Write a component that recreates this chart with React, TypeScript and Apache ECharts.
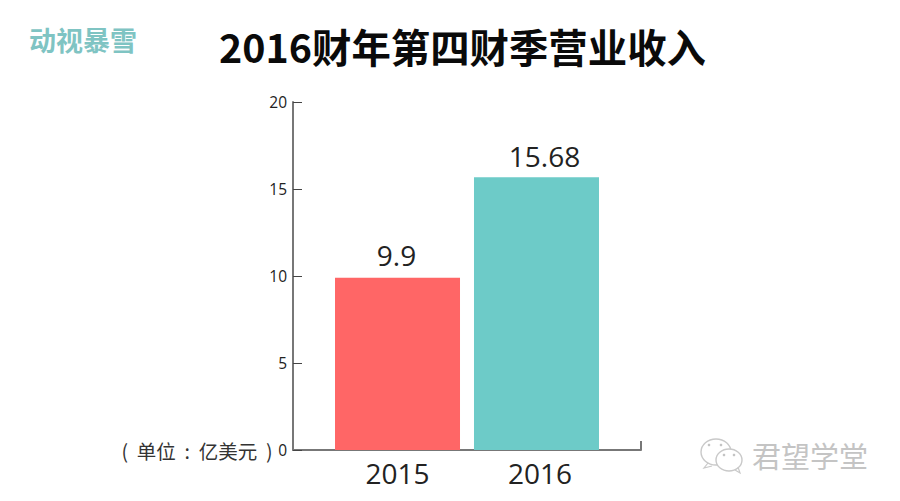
import React, { useEffect, useRef } from "react";
import * as echarts from "echarts";

const categories = ["2015", "2016"];
const values = [9.9, 15.68];
const barColors = ["#FF6666", "#6DCBC8"];
const labelOffsets = [[-1, -4], [8, -2]];
const titleText = "2016财年第四财季营业收入";
const brandText = "动视暴雪";
const unitText = "(  单位  :  亿美元  )";
const watermarkText = "君望学堂";

const X_MIN = 0.248;
const X_MAX = 2.752;

export default function App() {
  const ref = useRef<HTMLDivElement>(null);
  useEffect(() => {
    const chart = echarts.init(ref.current!, null, { renderer: "svg" });
    const bubble = { fill: "#fff", stroke: "#c9c9c9", lineWidth: 1.4 };
    const eye = { fill: "#c4c4c4" };
    chart.setOption({
      animation: false,
      backgroundColor: "#ffffff",
      grid: { left: 293, right: 259, top: 102, bottom: 51, containLabel: false },
      xAxis: {
        type: "value",
        min: X_MIN,
        max: X_MAX,
        splitLine: { show: false },
        axisLine: { show: true, lineStyle: { color: "#777777", width: 2 } },
        axisTick: {
          show: true,
          inside: true,
          length: 9,
          customValues: [X_MIN, X_MAX],
          lineStyle: { color: "#777777", width: 2 },
        },
        axisLabel: {
          show: true,
          customValues: [1, 2.025],
          margin: 9,
          fontSize: 28,
          fontFamily: "Open Sans",
          color: "#222222",
          formatter: (v: number) => categories[Math.round(v) - 1] ?? "",
        },
      },
      yAxis: {
        type: "value",
        min: 0,
        max: 20,
        interval: 5,
        splitLine: { show: false },
        axisLine: { show: true, lineStyle: { color: "#777777", width: 2 } },
        axisTick: { show: true, inside: true, length: 9, lineStyle: { color: "#444444", width: 1 } },
        axisLabel: { margin: 6, fontSize: 15.5, fontFamily: "Open Sans", color: "#222222" },
      },
      series: [
        {
          type: "bar",
          barWidth: 125,
          data: values.map((v, i) => ({
            value: [i + 1, v],
            itemStyle: { color: barColors[i] },
            label: { offset: labelOffsets[i] },
          })),
          label: {
            show: true,
            position: "top",
            distance: 5,
            fontSize: 28,
            fontFamily: "Open Sans",
            color: "#222222",
            formatter: (p: any) => String(p.value[1]),
          },
        },
      ],
      graphic: [
        {
          type: "text",
          x: 462.5,
          y: 45,
          style: {
            text: titleText,
            fontSize: 39.4,
            fontWeight: "bold",
            fontFamily: "Noto Sans CJK SC",
            fill: "#0a0a0a",
            align: "center",
            verticalAlign: "middle",
          },
        },
        {
          type: "text",
          x: 83,
          y: 39,
          style: {
            text: brandText,
            fontSize: 27,
            fontWeight: "bold",
            fontFamily: "Noto Sans CJK SC",
            fill: "#7FC4C3",
            align: "center",
            verticalAlign: "middle",
          },
        },
        {
          type: "text",
          x: 197,
          y: 450,
          style: {
            text: unitText,
            fontSize: 19.5,
            fontFamily: "Noto Sans CJK SC",
            fill: "#333333",
            align: "center",
            verticalAlign: "middle",
          },
        },
        {
          type: "text",
          x: 810,
          y: 455,
          style: {
            text: watermarkText,
            fontSize: 29,
            fontFamily: "Noto Sans CJK SC",
            fill: "#c4c4c4",
            align: "center",
            verticalAlign: "middle",
          },
        },
        { type: "ellipse", shape: { cx: 716, cy: 452, rx: 15, ry: 13 }, style: bubble },
        { type: "ellipse", shape: { cx: 729, cy: 460, rx: 13, ry: 11 }, style: bubble },
        { type: "polyline", shape: { points: [[708, 463], [704, 468], [712, 466]] }, style: { fill: "none", stroke: "#c9c9c9", lineWidth: 1.2 } },
        { type: "polyline", shape: { points: [[735, 470], [740, 473], [738, 467]] }, style: { fill: "none", stroke: "#c9c9c9", lineWidth: 1.2 } },
        { type: "circle", shape: { cx: 709, cy: 445, r: 1.3 }, style: eye },
        { type: "circle", shape: { cx: 721, cy: 445, r: 1.3 }, style: eye },
        { type: "circle", shape: { cx: 724, cy: 455, r: 1.3 }, style: eye },
        { type: "circle", shape: { cx: 734, cy: 455, r: 1.3 }, style: eye },
      ],
    });
    return () => chart.dispose();
  }, []);
  return <div ref={ref} style={{ position: "fixed", left: 0, top: 0, width: 900, height: 501 }} />;
}
